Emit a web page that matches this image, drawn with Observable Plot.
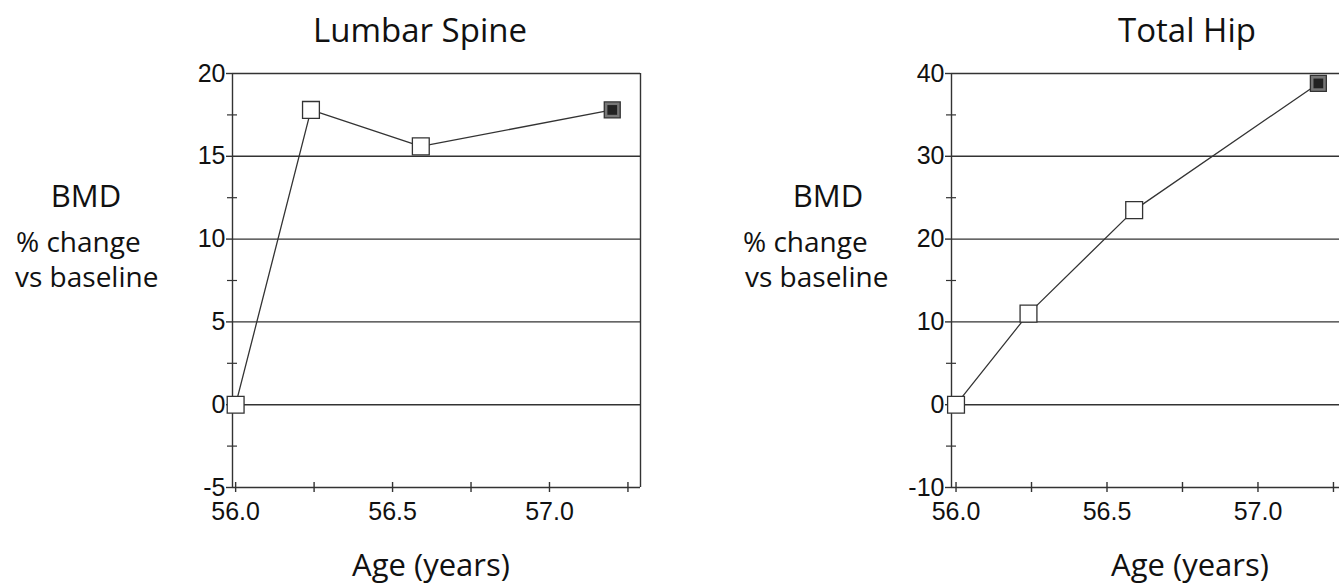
<!DOCTYPE html>
<html><head><meta charset="utf-8">
<script src="https://cdn.jsdelivr.net/npm/d3@7"></script>
<script src="https://cdn.jsdelivr.net/npm/@observablehq/plot@0.6"></script>
<style>
body{margin:0;background:#fff;}
#wrap{position:relative;width:1339px;height:586px;overflow:hidden;font-family:'Open Sans',sans-serif;color:#111;}
.lbl{position:absolute;white-space:nowrap;line-height:1;}
.c{transform:translate(-50%,-50%);}
.l{transform:translateY(-50%);}
.title{font-size:33px;}
.xl{font-size:31px;}
.bmd{font-size:31px;}
.small{font-size:28px;}
.panel{position:absolute;}
</style></head><body><div id="wrap"></div>
<script>
// Data
const ages = [56.0, 56.24, 56.59, 57.2];
const spineChange = [0, 17.8, 15.6, 17.8];
const hipChange = [0, 11.0, 23.5, 38.8];
const xTicksMajor = [56.0, 56.5, 57.0];
const xTicksAll = [56.0, 56.25, 56.5, 56.75, 57.0, 57.25];
const spineTicks = [-5, 0, 5, 10, 15, 20];
const spineMinor = [-2.5, 2.5, 7.5, 12.5, 17.5];
const hipTicks = [-10, 0, 10, 20, 30, 40];
const hipMinor = [-5, 5, 15, 25, 35];
const titles = ["Lumbar Spine", "Total Hip"];
const yLabelLines = ["BMD", "% change", "vs baseline"];
const xLabel = "Age (years)";

const wrap = document.getElementById("wrap");
const tickFont = "'Liberation Sans', Arial, sans-serif";

function panel({values, yTicks, yMinor, xDomain, width, marginLeft, marginRight, rightFrame}) {
  const data = ages.map((a, i) => ({age: a, value: values[i], last: i === ages.length - 1}));
  const marks = [
    Plot.ruleY(yTicks, {stroke: "#333", strokeWidth: 1.4}),
    Plot.ruleX([xDomain[0]], {stroke: "#333", strokeWidth: 1.4}),
  ];
  if (rightFrame) marks.push(Plot.ruleX([xDomain[1]], {stroke: "#333", strokeWidth: 1.4}));
  marks.push(
    Plot.axisY({ticks: yTicks, label: null, tickSize: 6, tickPadding: 1, tickFormat: d => String(d), fontSize: 25, fontFamily: tickFont, fill: "#111", stroke: "#333", strokeWidth: 1.4}),
    Plot.axisY({ticks: yMinor, label: null, tickSize: 10, dx: 5, tickFormat: () => "", stroke: "#333", strokeWidth: 1.2}),
    Plot.axisX({ticks: xTicksAll, label: null, tickSize: 10, dy: -5, tickFormat: () => "", stroke: "#333", strokeWidth: 1.4}),
    Plot.axisX({ticks: xTicksMajor, label: null, tickSize: 0, tickPadding: 15, tickFormat: d3.format(".1f"), fontSize: 25, fontFamily: tickFont, fill: "#111"}),
    Plot.line(data, {x: "age", y: "value", stroke: "#333", strokeWidth: 1.3}),
    Plot.dot(data.filter(d => !d.last), {x: "age", y: "value", symbol: "square", r: 9.5, fill: "white", stroke: "#333", strokeWidth: 1.3}),
    Plot.dot(data.filter(d => d.last), {x: "age", y: "value", symbol: "square", r: 9, fill: "#777", stroke: "#333", strokeWidth: 1.3}),
    Plot.dot(data.filter(d => d.last), {x: "age", y: "value", symbol: "square", r: 5.5, fill: "#222", stroke: "none"})
  );
  return Plot.plot({
    width, height: 500,
    marginTop: 23, marginBottom: 63, marginLeft, marginRight,
    x: {type: "linear", domain: xDomain},
    y: {type: "linear", domain: [yTicks[0], yTicks[yTicks.length - 1]]},
    style: {background: "transparent", overflow: "visible"},
    marks
  });
}

function place(el, left, top) {
  const d = document.createElement("div");
  d.className = "panel";
  d.style.left = left + "px";
  d.style.top = top + "px";
  d.appendChild(el);
  wrap.appendChild(d);
}
function label(text, cls, x, y) {
  const d = document.createElement("div");
  d.className = "lbl " + cls;
  d.style.left = x + "px";
  d.style.top = y + "px";
  d.textContent = text;
  wrap.appendChild(d);
}

place(panel({values: spineChange, yTicks: spineTicks, yMinor: spineMinor, xDomain: [55.99, 57.29], width: 480, marginLeft: 52, marginRight: 20, rightFrame: true}), 180, 50);
place(panel({values: hipChange, yTicks: hipTicks, yMinor: hipMinor, xDomain: [55.985, 57.27], width: 439, marginLeft: 51, marginRight: 0, rightFrame: false}), 900, 50);

label(titles[0], "c title", 420, 29);
label(titles[1], "c title", 1187, 29);
label(xLabel, "c xl", 431, 564);
label(xLabel, "c xl", 1190, 564);
label(yLabelLines[0], "c bmd", 86, 195);
label(yLabelLines[1], "l small", 16, 241);
label(yLabelLines[2], "l small", 15, 276);
label(yLabelLines[0], "c bmd", 828, 195);
label(yLabelLines[1], "l small", 743, 241);
label(yLabelLines[2], "l small", 745, 276);
</script></body></html>
